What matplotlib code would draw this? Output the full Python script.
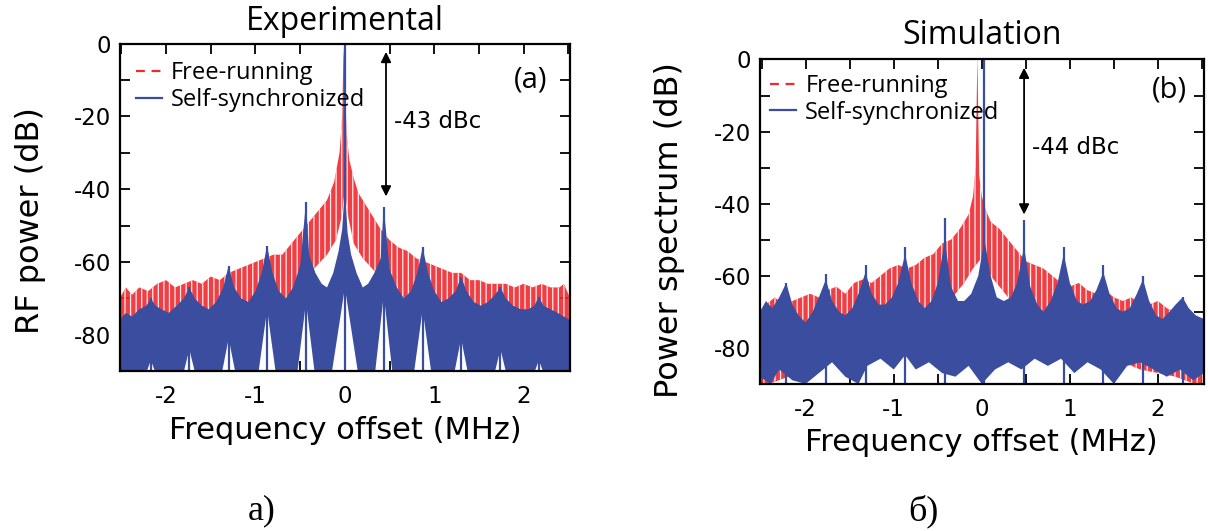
import numpy as np
import matplotlib
matplotlib.use("Agg")
import matplotlib.pyplot as plt
from matplotlib.lines import Line2D
from matplotlib.ticker import MultipleLocator

plt.rcParams["axes.unicode_minus"] = False
plt.rcParams["hatch.linewidth"] = 0.9

# ---- panel (a): experimental (dB vs MHz) ----
a_blue_top_x = [-2.52, -2.45, -2.38, -2.30, -2.22, -2.17, -2.12, -2.05, -1.97, -1.88, -1.80, -1.74,
                -1.68, -1.60, -1.52, -1.44, -1.36, -1.30, -1.24, -1.16, -1.08, -1.00, -0.93, -0.87,
                -0.81, -0.74, -0.66, -0.58, -0.50, -0.435, -0.40, -0.33, -0.26, -0.20, -0.13, -0.07,
                -0.03, 0.0, 0.03, 0.07, 0.13, 0.20, 0.26, 0.33, 0.40, 0.435, 0.50, 0.58, 0.66, 0.74,
                0.81, 0.87, 0.93, 1.00, 1.08, 1.16, 1.24, 1.30, 1.36, 1.44, 1.52, 1.60, 1.68, 1.74,
                1.80, 1.88, 1.97, 2.05, 2.12, 2.17, 2.22, 2.30, 2.38, 2.45, 2.52]
a_blue_top_y = [-76, -74, -75, -73, -72, -70, -72, -73, -74, -72, -70, -67,
                -70, -72, -73, -71, -67, -61, -67, -70, -71, -68, -63, -55.5,
                -63, -68, -70, -67, -61, -43.5, -58, -63, -66, -67, -63, -57,
                -51, -40, -52, -58, -63, -67, -66, -63, -59, -45, -62, -67, -70, -68,
                -63, -56, -63, -68, -71, -70, -68, -64, -68, -71, -72, -71, -69, -67,
                -70, -72, -73, -73, -72, -69.5, -72, -73, -74, -75, -76]
a_blue_bot_x = [-2.52, -2.23, -2.17, -2.11, -1.81, -1.74, -1.67, -1.38, -1.30, -1.22, -0.97, -0.87,
                -0.77, -0.535, -0.435, -0.335, -0.15, 0.0, 0.15, 0.335, 0.435, 0.535, 0.77, 0.87,
                0.97, 1.22, 1.30, 1.38, 1.67, 1.74, 1.81, 2.11, 2.17, 2.23, 2.52]
a_blue_bot_y = [-91, -91, -87, -91, -91, -84, -91, -91, -81, -91, -91, -73,
                -91, -91, -71, -91, -91, -67, -91, -91, -69, -91, -91, -73,
                -91, -91, -81, -91, -91, -84, -91, -91, -87, -91, -91]
a_red_top_x = [-2.52, -2.45, -2.38, -2.30, -2.20, -2.10, -2.00, -1.90, -1.80, -1.70, -1.60, -1.50,
               -1.40, -1.30, -1.20, -1.10, -1.00, -0.90, -0.80, -0.70, -0.60, -0.50, -0.40, -0.30,
               -0.20, -0.12, -0.06, -0.03, -0.015, 0.0, 0.02, 0.05, 0.10, 0.15, 0.20, 0.30, 0.40,
               0.50, 0.60, 0.70, 0.80, 0.90, 1.00, 1.10, 1.20, 1.30, 1.40, 1.50, 1.60, 1.70, 1.80,
               1.90, 2.00, 2.10, 2.20, 2.30, 2.40, 2.45, 2.52]
a_red_top_y = [-70, -67, -69, -67, -68, -66, -65, -67, -66, -65, -66, -64,
               -65, -63, -62, -61, -60, -59, -58, -58, -55, -52, -49, -46,
               -43, -38, -30, -20, -1, -10, -25, -32, -37, -41, -43, -47, -51,
               -54, -56, -57, -59, -60, -61, -62, -63, -63, -65, -65, -66, -66, -66,
               -67, -66, -67, -66, -67, -67, -66, -70]
a_red_bot_x = [-2.52, -1.00, -0.70, -0.50, -0.35, -0.20, -0.10, -0.04, 0.0, 0.04, 0.10, 0.20,
               0.35, 0.50, 0.70, 1.00, 2.52]
a_red_bot_y = [-78, -76, -72, -68, -62, -58, -54, -48, -40, -48, -55, -59,
               -63, -68, -72, -76, -78]
a_peak_x = [-2.17, -1.74, -1.30, -0.87, -0.435, 0.0, 0.435, 0.87, 1.30, 1.74, 2.17]
a_peak_y = [-70, -67, -61, -55.5, -43.5, 2, -45, -56, -64, -67, -69.5]

# ---- panel (b): simulation ----
b_blue_top_x = [-2.52, -2.45, -2.38, -2.30, -2.22, -2.15, -2.08, -2.00, -1.92, -1.85, -1.77, -1.70,
                -1.62, -1.55, -1.47, -1.40, -1.32, -1.25, -1.17, -1.10, -1.02, -0.95, -0.87, -0.80,
                -0.72, -0.65, -0.57, -0.50, -0.42, -0.35, -0.27, -0.20, -0.12, -0.04, 0.03, 0.10,
                0.17, 0.25, 0.33, 0.40, 0.48, 0.55, 0.63, 0.70, 0.78, 0.86, 0.93, 1.00, 1.08, 1.15,
                1.23, 1.30, 1.38, 1.45, 1.53, 1.60, 1.68, 1.76, 1.83, 1.90, 1.98, 2.05, 2.13, 2.20,
                2.28, 2.35, 2.43, 2.52]
b_blue_top_y = [-70, -67, -69, -66, -62, -68, -71, -73, -70, -66, -61, -67,
                -70, -71, -69, -65, -59, -65, -68, -68, -66, -62, -54, -62,
                -67, -69, -67, -62, -50, -63, -67, -67, -65, -60, -50, -60,
                -66, -67, -66, -62, -52, -63, -68, -70, -67, -62, -54, -62, -67, -68,
                -67, -64, -59, -65, -69, -70, -69, -65, -61, -67, -71, -72, -70, -68,
                -66, -69, -71, -72]
b_blue_bot_x = [-2.52, -2.40, -2.30, -2.15, -2.00, -1.85, -1.70, -1.55, -1.40, -1.30, -1.15, -1.00,
                -0.87, -0.75, -0.60, -0.45, -0.30, -0.15, 0.0, 0.15, 0.30, 0.45, 0.60, 0.75, 0.90,
                1.05, 1.20, 1.35, 1.50, 1.65, 1.80, 1.95, 2.10, 2.25, 2.40, 2.52]
b_blue_bot_y = [-88, -90, -86, -89, -90, -87, -84, -88, -90, -85, -83, -86,
                -82, -86, -84, -87, -88, -85, -90, -86, -84, -86, -83, -85, -83,
                -87, -84, -86, -90, -85, -84, -86, -88, -86, -89, -87]
b_red_top_x = [-2.52, -2.45, -2.35, -2.25, -2.15, -2.05, -1.95, -1.85, -1.75, -1.65, -1.55, -1.45,
               -1.35, -1.25, -1.15, -1.05, -0.95, -0.85, -0.75, -0.65, -0.55, -0.45, -0.35, -0.25,
               -0.15, -0.10, -0.07, -0.05, -0.03, 0.0, 0.05, 0.10, 0.20, 0.30, 0.40, 0.50, 0.60,
               0.70, 0.80, 0.90, 1.00, 1.10, 1.20, 1.30, 1.40, 1.50, 1.60, 1.70, 1.80, 1.90, 2.00,
               2.10, 2.20, 2.30, 2.40, 2.52]
b_red_top_y = [-72, -68, -66, -68, -67, -66, -65, -66, -64, -63, -65, -62,
               -61, -62, -60, -58, -57, -58, -57, -55, -54, -51, -50, -47,
               -43, -38, -30, 1, -32, -38, -42, -45, -47, -50, -53, -56, -57,
               -58, -60, -62, -63, -62, -64, -65, -64, -66, -67, -66, -68, -68, -67,
               -69, -70, -69, -71, -72]
b_red_bot_x = [-2.52, -2.20, -1.90, -1.50, -1.10, -0.70, -0.40, -0.20, -0.10, 0.0, 0.10, 0.30,
               0.60, 1.00, 1.40, 1.80, 2.20, 2.52]
b_red_bot_y = [-91, -88, -85, -80, -75, -72, -68, -62, -58, -55, -60, -66,
               -72, -78, -82, -86, -88, -91]
b_peak_x = [-2.22, -1.77, -1.32, -0.87, -0.42, 0.03, 0.48, 0.93, 1.38, 1.83, 2.28]
b_peak_y = [-62, -59.5, -57, -52, -44, 2, -44.5, -52, -57, -60, -66]

legend_labels = ["Free-running", "Self-synchronized"]
BLUE = "#3a4d9f"
RED = "#ee2a2f"


def band(ax, tx, ty, bx, by, color, z, alpha=1.0, hatch=None):
    xs = list(tx) + list(bx)[::-1]
    ys = list(ty) + list(by)[::-1]
    ax.fill(xs, ys, facecolor=color, edgecolor="white", lw=0, zorder=z, alpha=alpha,
            hatch=hatch)


def panel(ax, d, title, tag, dbc, arrow_x, ylabel, title_y, label_pos, leg_anchor):
    band(ax, d["rtx"], d["rty"], d["rbx"], d["rby"], RED, 2, 0.9, hatch="|||")
    band(ax, d["btx"], d["bty"], d["bbx"], d["bby"], BLUE, 3)
    ax.vlines(d["px"], -91, d["py"], color=BLUE, lw=1.6, zorder=4)

    ax.set_xlim(-2.52, 2.52)
    ax.set_ylim(-90, 0)
    ax.xaxis.set_major_locator(MultipleLocator(1))
    ax.xaxis.set_minor_locator(MultipleLocator(0.5))
    ax.yaxis.set_major_locator(MultipleLocator(20))
    ax.yaxis.set_minor_locator(MultipleLocator(10))
    ax.tick_params(which="both", direction="in", top=True, right=True, width=1.3,
                   labelsize=16.5, length=7)
    ax.tick_params(axis="x", pad=10)
    ax.tick_params(axis="y", pad=6)
    for s in ax.spines.values():
        s.set_linewidth(1.6)
        s.set_zorder(6)

    ax.set_xlabel("Frequency offset (MHz)", fontsize=22)
    ax.xaxis.set_label_coords(0.5, label_pos[0])
    ax.xaxis.label.set_va("center")
    ax.set_ylabel(ylabel, fontsize=23)
    ax.yaxis.set_label_coords(label_pos[1], label_pos[2])
    ax.yaxis.label.set_va("center")

    ax.text(0.5, title_y, title, transform=ax.transAxes, ha="center", va="center",
            fontsize=23, family="Open Sans")
    ax.text(tag[0], tag[1], tag[2], ha="center", va="center", fontsize=21,
            family="Open Sans")
    ax.annotate("", xy=(arrow_x, dbc[1]), xytext=(arrow_x, -2.3),
                arrowprops=dict(arrowstyle="<|-|>", color="black", lw=1.3,
                                mutation_scale=15, shrinkA=0, shrinkB=0), zorder=7)
    ax.text(arrow_x + 0.09, dbc[2], dbc[0], ha="left", va="center", fontsize=16.5)

    handles = [Line2D([], [], color=RED, lw=1.6, ls=(0, (4, 3))),
               Line2D([], [], color=BLUE, lw=1.6)]
    ax.legend(handles, legend_labels, loc="upper left", bbox_to_anchor=leg_anchor,
              frameon=False, prop={"family": "Open Sans", "size": 17},
              handlelength=1.1, handletextpad=0.4, labelspacing=0.12,
              borderpad=0.2, borderaxespad=0)


fig = plt.figure(figsize=(12.08, 5.31), dpi=100)
ax1 = fig.add_axes([0.099, 0.301, 0.373, 0.617])
ax2 = fig.add_axes([0.629, 0.277, 0.3675, 0.611])

da = dict(btx=a_blue_top_x, bty=a_blue_top_y, bbx=a_blue_bot_x, bby=a_blue_bot_y,
          rtx=a_red_top_x, rty=a_red_top_y, rbx=a_red_bot_x, rby=a_red_bot_y,
          px=a_peak_x, py=a_peak_y)
db = dict(btx=b_blue_top_x, bty=b_blue_top_y, bbx=b_blue_bot_x, bby=b_blue_bot_y,
          rtx=b_red_top_x, rty=b_red_top_y, rbx=b_red_bot_x, rby=b_red_bot_y,
          px=b_peak_x, py=b_peak_y)

panel(ax1, da, "Experimental", (2.08, -10, "(a)"), ("-43 dBc", -42, -21.5), 0.46,
      "RF power (dB)", 1.066, (-0.18, -0.197, 0.46), (0.025, 0.96))
panel(ax2, db, "Simulation", (2.13, -8.6, "(b)"), ("-44 dBc", -43, -24.3), 0.48,
      "Power spectrum (dB)", 1.075, (-0.182, -0.203, 0.474), (0.012, 0.97))

fig.text(262 / 1208, 1 - 511 / 531, "а)", ha="center", va="center", fontsize=26,
         family="Liberation Serif")
fig.text(923 / 1208, 1 - 511 / 531, "б)", ha="center", va="center", fontsize=26,
         family="Liberation Serif")

fig.savefig("out.png", dpi=100)
